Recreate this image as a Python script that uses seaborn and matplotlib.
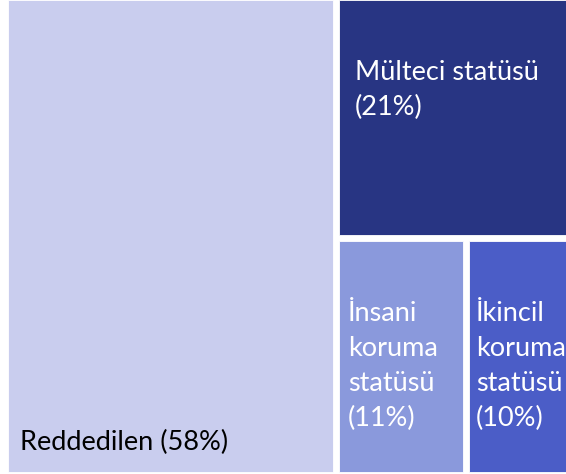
import matplotlib
matplotlib.use("Agg")
import matplotlib.pyplot as plt
from matplotlib.patches import Rectangle
import seaborn as sns

# ==================================
# Data
# ==================================

labels = ["Reddedilen", "Mülteci statüsü", "İnsani koruma statüsü", "İkincil koruma statüsü"]
shares = [57.6, 21.4, 11.2, 9.8]
display_names = [
    "Reddedilen",
    "Mülteci statüsü\n",
    "İnsani\nkoruma\nstatüsü\n",
    "İkincil\nkoruma\nstatüsü\n",
]
colors = ["#C9CDEE", "#283583", "#8A99DC", "#4B5DC7"]
text_colors = ["black", "white", "white", "white"]

# ==================================
# Treemap layout (one big column, then a column split top / bottom row)
# ==================================

sns.set_style("white")
plt.rcParams["font.family"] = ["Lato", "DejaVu Sans"]

fig = plt.figure(figsize=(5.66, 4.74), dpi=100)
ax = fig.add_axes([0, 0, 1, 1])
ax.set_xlim(0, 566)
ax.set_ylim(474, 0)
ax.axis("off")

x0, x1, y0, y1 = 8, 577.4, 0, 472
gap = 6
total = sum(shares)

# first item: left column
w_left = (x1 - x0) * shares[0] / total
rects = [(x0, y0, w_left - gap / 2, y1 - y0)]

# rest: right column
rx = x0 + w_left + gap / 2
rw = x1 - rx
rest = total - shares[0]
h_top = (y1 - y0) * shares[1] / rest
rects.append((rx, y0, rw, h_top - gap / 2))

by = y0 + h_top + gap / 2
bh = y1 - by
bottom_total = shares[2] + shares[3]
w2 = rw * shares[2] / bottom_total
rects.append((rx, by, w2 - gap / 2, bh))
rects.append((rx + w2 + gap / 2, by, rw - w2 - gap / 2, bh))

for (x, y, w, h), c in zip(rects, colors):
    ax.add_patch(Rectangle((x, y), w, h, facecolor=c, edgecolor="white",
                           linewidth=0.6))

texts = []
for name, s in zip(display_names, shares):
    sep = " " if not name.endswith("\n") else ""
    texts.append(f"{name}{sep}({round(s)}%)")

# labels
fs = 19.5
ls = 1.5
ax.text(rects[0][0] + 12, rects[0][1] + rects[0][3] - 30, texts[0],
        color=text_colors[0], fontsize=fs, va="center", ha="left")
ax.text(rects[1][0] + 16, 90, texts[1], color=text_colors[1],
        fontsize=fs, va="center", ha="left", linespacing=ls)
ax.text(rects[2][0] + 9, 366, texts[2], color=text_colors[2],
        fontsize=fs, va="center", ha="left", linespacing=ls)
ax.text(rects[3][0] + 7, 366, texts[3], color=text_colors[3],
        fontsize=fs, va="center", ha="left", linespacing=ls)

plt.savefig("out.png", dpi=100)
